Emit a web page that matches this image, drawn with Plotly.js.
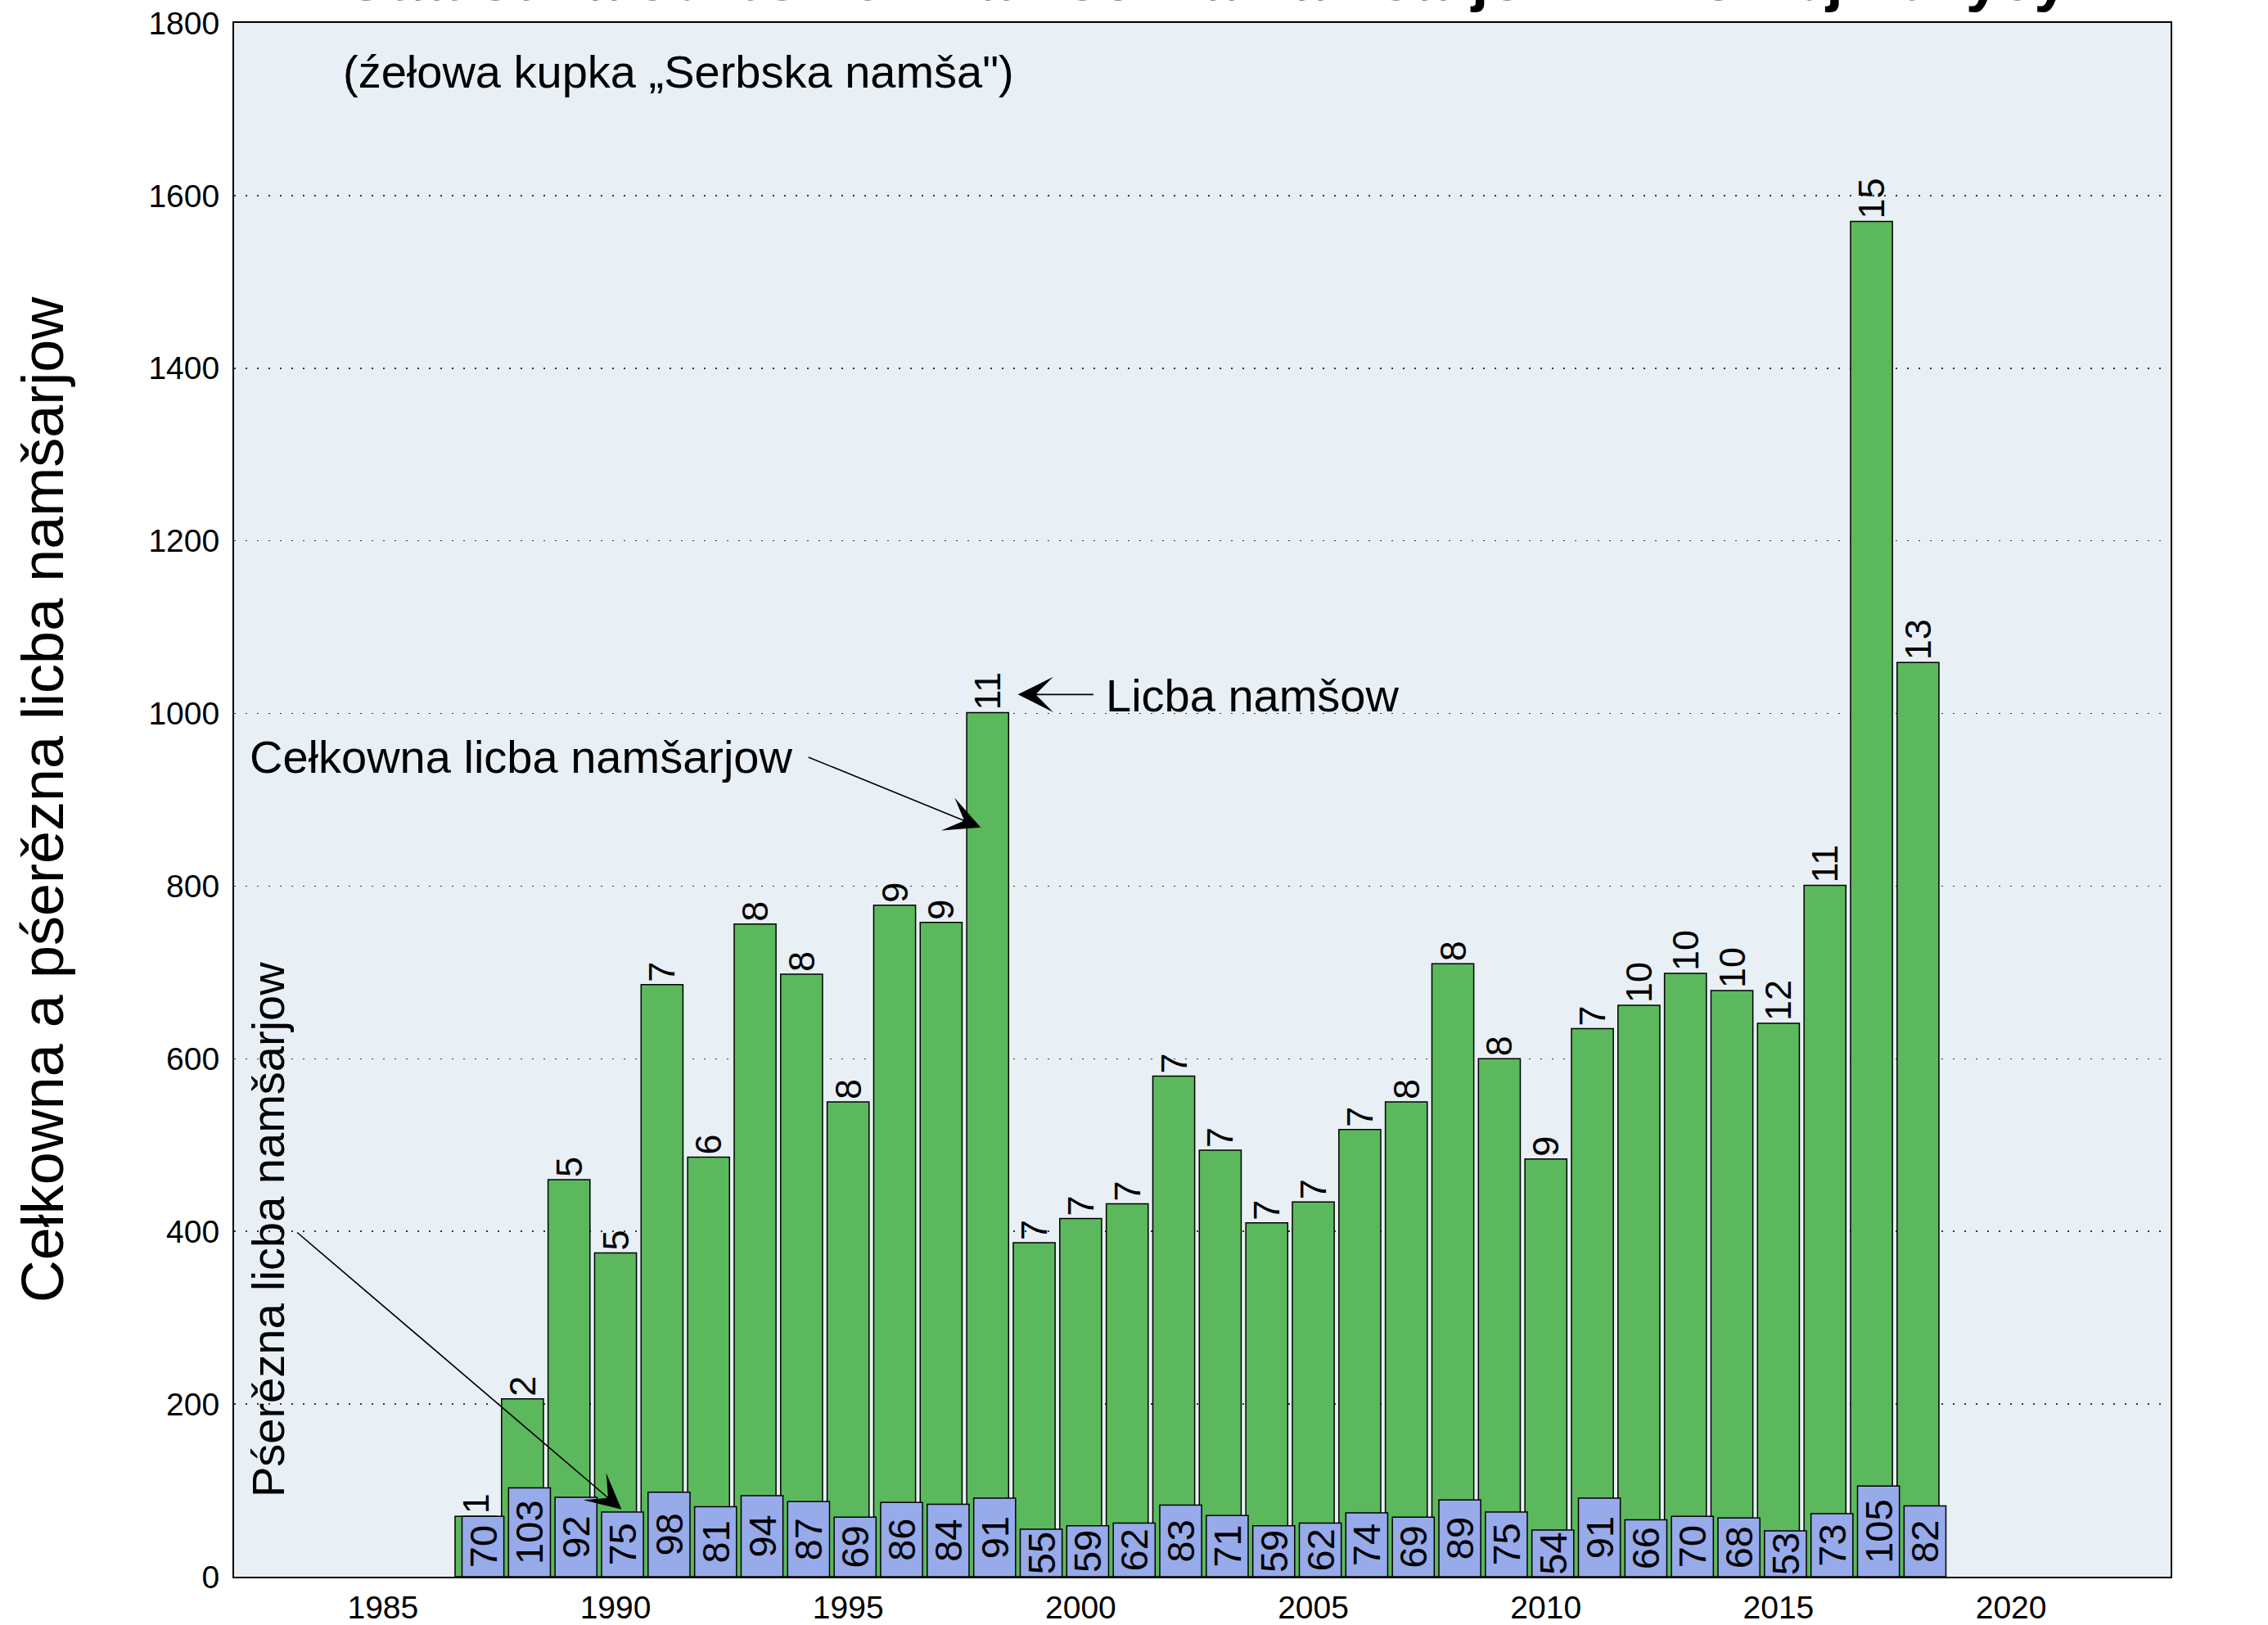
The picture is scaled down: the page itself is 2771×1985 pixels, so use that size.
<!DOCTYPE html>
<html>
<head>
<meta charset="utf-8">
<script src="https://cdn.plot.ly/plotly-3.0.1.min.js"></script>
<style>
html,body{margin:0;padding:0;background:#ffffff;}
#chart{width:2771px;height:1985px;}
</style>
</head>
<body>
<div id="chart"></div>
<script>
// ---- data ----
const years = [1987,1988,1989,1990,1991,1992,1993,1994,1995,1996,1997,1998,
               1999,2000,2001,2002,2003,2004,2005,2006,
               2007,2008,2009,2010,2011,2012,2013,2014,2015,2016,2017,2018];
// number of services (labels above green bars)
const serviceCount = [1,2,5,5,7,6,8,8,8,9,9,11,
                      7,7,7,7,7,7,7,7,
                      8,8,8,9,7,10,10,10,12,11,15,13];
// average number of participants (blue bars)
const avgParticipants = [70,103,92,75,98,81,94,87,69,86,84,91,
                         55,59,62,83,71,59,62,74,
                         69,89,75,54,91,66,70,68,53,73,105,82];
// total number of participants (green bars)
const totalParticipants = [70,206,460,375,686,486,756,698,550,778,758,1001,
                           387,415,432,580,494,410,434,518,
                           550,710,600,484,635,662,699,679,641,801,1570,1059];
const xTicks = [1985,1990,1995,2000,2005,2010,2015,2020];
const yTicks = [0,200,400,600,800,1000,1200,1400,1600,1800];

const titleText = 'Statistika serbskich namšow a namšarjow w Dolnej Łužycy';
const subtitleText = '(źełowa kupka „Serbska namša")';
const yTitleText = 'Cełkowna a pśerězna licba namšarjow';
const countLabel = 'Licba namšow';
const totalLabel = 'Cełkowna licba namšarjow';
const avgLabel = 'Pśerězna licba namšarjow';

// ---- style ----
const FONT = 'Liberation Sans, Arial, Helvetica, sans-serif';
const GREEN = '#5cb85c';
const BLUE = '#97aae9';
const BG = '#e8eff5';

const totalTrace = {
  type: 'bar',
  name: totalLabel,
  x: years,
  y: totalParticipants,
  width: 0.9,
  offset: -0.45,
  marker: {color: GREEN, line: {color: '#000000', width: 1.5}},
  text: serviceCount.map(String),
  textposition: 'outside',
  textangle: -90,
  constraintext: 'none',
  cliponaxis: false,
  textfont: {family: FONT, size: 45, color: '#000000'},
  hoverinfo: 'skip'
};

const avgTrace = {
  type: 'bar',
  name: avgLabel,
  x: years,
  y: avgParticipants,
  width: 0.9,
  offset: -0.30,
  marker: {color: BLUE, line: {color: '#000000', width: 1.5}},
  text: avgParticipants.map(String),
  textposition: 'inside',
  insidetextanchor: 'middle',
  textangle: -90,
  constraintext: 'none',
  textfont: {family: FONT, size: 47, color: '#000000'},
  hoverinfo: 'skip'
};

const ANN_FONT = {family: FONT, size: 56, color: '#000000'};
const arrowStyle = {showarrow: true, arrowhead: 3, arrowsize: 4.5, arrowwidth: 1.6, arrowcolor: '#000000', axref: 'x', ayref: 'y', xref: 'x', yref: 'y', text: ''};

const annotations = [
  // main title: in the reference it sits almost entirely above the top edge
  {xref: 'paper', yref: 'paper', x: 0.5025, y: 1.0054, xanchor: 'center', yanchor: 'bottom',
   text: '<b>' + titleText + '</b>', showarrow: false,
   font: {family: FONT, size: 75, color: '#000000'}},
  {xref: 'paper', yref: 'paper', x: 0.2295, y: 0.9684, xanchor: 'center', yanchor: 'middle',
   text: subtitleText, showarrow: false, font: ANN_FONT},
  {xref: 'x', yref: 'y', x: 2000.5, y: 1021, xanchor: 'left', yanchor: 'middle',
   text: countLabel, showarrow: false, font: ANN_FONT},
  Object.assign({}, arrowStyle, {x: 1998.65, y: 1022, ax: 2000.3, ay: 1022}),
  {xref: 'x', yref: 'y', x: 1993.85, y: 950, xanchor: 'right', yanchor: 'middle',
   text: totalLabel, showarrow: false, font: ANN_FONT},
  Object.assign({}, arrowStyle, {x: 1997.85, y: 868, ax: 1994.12, ay: 950}),
  {xref: 'x', yref: 'y', x: 1982.52, y: 402, xanchor: 'center', yanchor: 'middle',
   text: avgLabel, textangle: -90, showarrow: false, font: ANN_FONT},
  Object.assign({}, arrowStyle, {x: 1990.13, y: 78, ax: 1983.13, ay: 400})
];

const tickFont = {family: FONT, size: 39, color: '#000000'};

const layout = {
  width: 2771,
  height: 1985,
  margin: {l: 286, r: 119, t: 28, b: 59, pad: 0},
  paper_bgcolor: '#ffffff',
  plot_bgcolor: BG,
  barmode: 'overlay',
  showlegend: false,
  font: {family: FONT, color: '#000000'},
  xaxis: {
    range: [1981.8, 2023.43],
    tickvals: xTicks,
    ticktext: xTicks.map(String),
    ticks: '',
    ticklabelstandoff: 2,
    tickfont: tickFont,
    showgrid: false,
    zeroline: false,
    showline: true,
    linecolor: '#000000',
    linewidth: 2,
    mirror: true
  },
  yaxis: {
    range: [0, 1800],
    tickvals: yTicks,
    ticktext: yTicks.map(String),
    ticks: '',
    ticklabelstandoff: 8,
    tickfont: tickFont,
    showgrid: true,
    gridcolor: '#333333',
    gridwidth: 1.5,
    griddash: '2px,12px',
    zeroline: false,
    showline: true,
    linecolor: '#000000',
    linewidth: 2,
    mirror: true,
    title: {text: yTitleText, font: {family: FONT, size: 72, color: '#000000'}, standoff: 80}
  },
  yaxis2: {
    overlaying: 'y',
    side: 'right',
    range: [0, 1800],
    tickvals: yTicks,
    ticktext: yTicks.map(String),
    ticks: '',
    ticklabelstandoff: 13,
    tickfont: tickFont,
    showgrid: false,
    zeroline: false,
    showline: false
  },
  annotations: annotations
};

Plotly.newPlot('chart', [totalTrace, avgTrace], layout, {staticPlot: true, displayModeBar: false});
</script>
</body>
</html>
